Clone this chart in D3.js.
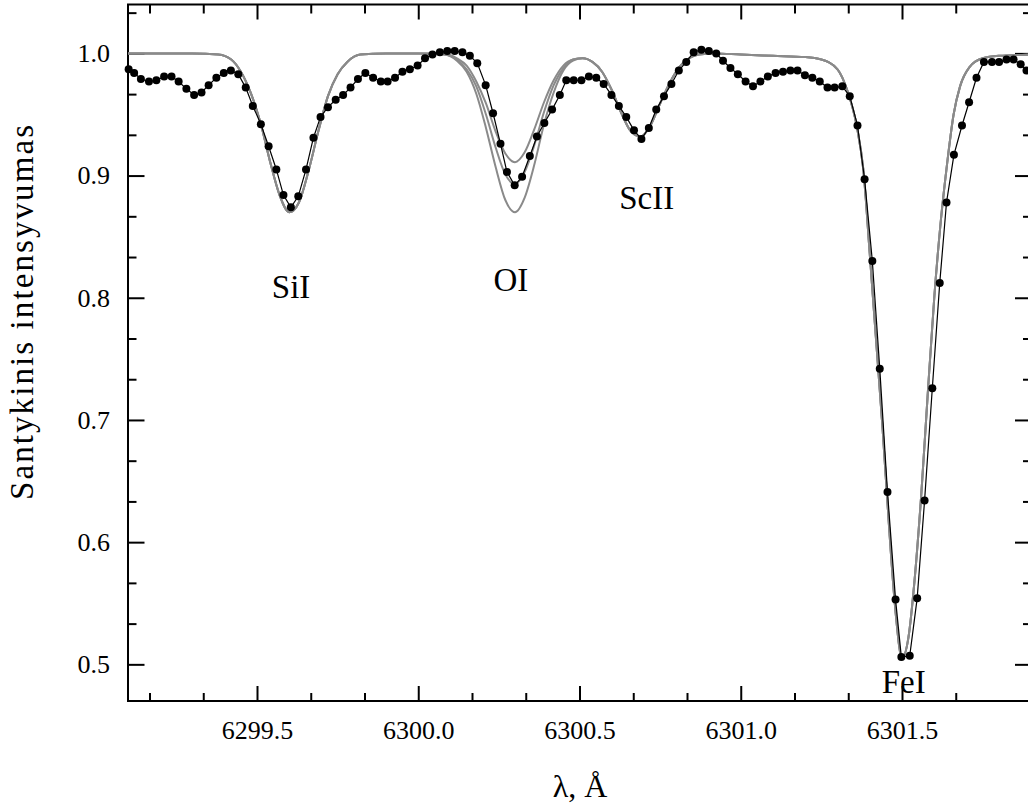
<!DOCTYPE html>
<html>
<head>
<meta charset="utf-8">
<script src="https://cdn.jsdelivr.net/npm/d3@7"></script>
<style>
  body { margin: 0; background: #fff; }
  svg { display: block; font-family: "Liberation Serif", "Times New Roman", serif; }
  .axis line { stroke: #000; stroke-width: 2; }
  .axis path { display: none; }
</style>
</head>
<body>
<svg id="chart" width="1028" height="805"></svg>
<script>
// observed spectrum (dots)
var obsWave = [
  6299.102, 6299.119, 6299.140, 6299.165, 6299.188, 6299.212, 6299.235, 6299.257, 6299.281, 6299.305,
  6299.328, 6299.350, 6299.374, 6299.397, 6299.419, 6299.442, 6299.465, 6299.487, 6299.512, 6299.536,
  6299.560, 6299.582, 6299.605, 6299.628, 6299.652, 6299.675, 6299.697, 6299.720, 6299.744, 6299.767,
  6299.790, 6299.813, 6299.836, 6299.860, 6299.884, 6299.905, 6299.928, 6299.951, 6299.974, 6299.998,
  6300.021, 6300.044, 6300.067, 6300.090, 6300.113, 6300.137, 6300.160, 6300.183, 6300.209, 6300.232,
  6300.255, 6300.275, 6300.299, 6300.322, 6300.346, 6300.368, 6300.391, 6300.415, 6300.439, 6300.459,
  6300.482, 6300.506, 6300.529, 6300.552, 6300.575, 6300.599, 6300.622, 6300.645, 6300.669, 6300.692,
  6300.715, 6300.738, 6300.762, 6300.785, 6300.808, 6300.831, 6300.854, 6300.878, 6300.901, 6300.924,
  6300.945, 6300.968, 6300.991, 6301.015, 6301.038, 6301.061, 6301.084, 6301.108, 6301.131, 6301.154,
  6301.176, 6301.199, 6301.222, 6301.245, 6301.269, 6301.291, 6301.315, 6301.338, 6301.362, 6301.384,
  6301.408, 6301.431, 6301.455, 6301.480, 6301.498, 6301.524, 6301.547, 6301.570, 6301.594, 6301.617,
  6301.638, 6301.661, 6301.686, 6301.708, 6301.731, 6301.754, 6301.779, 6301.801, 6301.824, 6301.846,
  6301.868, 6301.886
];
var obsFlux = [
  0.987, 0.984, 0.979, 0.977, 0.978, 0.981, 0.981, 0.977, 0.971, 0.966,
  0.968, 0.974, 0.980, 0.984, 0.986, 0.983, 0.972, 0.957, 0.942, 0.924,
  0.905, 0.884, 0.874, 0.883, 0.905, 0.931, 0.948, 0.956, 0.962, 0.966,
  0.972, 0.979, 0.984, 0.980, 0.977, 0.977, 0.980, 0.985, 0.987, 0.990,
  0.996, 0.999, 1.001, 1.002, 1.002, 1.001, 0.998, 0.992, 0.974, 0.951,
  0.926, 0.903, 0.892, 0.899, 0.916, 0.932, 0.943, 0.954, 0.966, 0.978,
  0.978, 0.978, 0.981, 0.980, 0.975, 0.966, 0.957, 0.948, 0.937, 0.930,
  0.939, 0.954, 0.965, 0.975, 0.986, 0.993, 1.001, 1.003, 1.002, 1.000,
  0.994, 0.988, 0.983, 0.977, 0.973, 0.977, 0.981, 0.984, 0.985, 0.986,
  0.986, 0.982, 0.980, 0.977, 0.972, 0.972, 0.973, 0.965, 0.941, 0.897,
  0.830, 0.742, 0.641, 0.553, 0.506, 0.507, 0.554, 0.634, 0.726, 0.812,
  0.878, 0.917, 0.941, 0.960, 0.980, 0.993, 0.993, 0.993, 0.995, 0.995,
  0.991, 0.986
];

// synthetic spectra, three oxygen abundances (they differ only at OI)
var modelWave = [
  6299.10, 6299.30, 6299.38, 6299.42, 6299.45, 6299.48, 6299.51, 6299.54, 6299.57, 6299.60,
  6299.63, 6299.66, 6299.69, 6299.72, 6299.75, 6299.78, 6299.82, 6299.90, 6300.00, 6300.08,
  6300.12, 6300.15, 6300.18, 6300.21, 6300.24, 6300.27, 6300.30, 6300.33, 6300.36, 6300.39,
  6300.42, 6300.45, 6300.48, 6300.51, 6300.54, 6300.57, 6300.60, 6300.63, 6300.66, 6300.69,
  6300.72, 6300.75, 6300.78, 6300.81, 6300.84, 6300.87, 6300.92, 6301.00, 6301.10, 6301.20,
  6301.25, 6301.30, 6301.33, 6301.36, 6301.38, 6301.40, 6301.42, 6301.44, 6301.46, 6301.48,
  6301.50, 6301.52, 6301.54, 6301.56, 6301.58, 6301.60, 6301.62, 6301.64, 6301.66, 6301.68,
  6301.71, 6301.75, 6301.80, 6301.90
];
var modelLow = [
  1.000, 1.000, 0.999, 0.995, 0.985, 0.968, 0.944, 0.912, 0.884, 0.870,
  0.878, 0.904, 0.936, 0.965, 0.983, 0.993, 0.999, 1.000, 1.000, 0.999,
  0.994, 0.985, 0.967, 0.939, 0.907, 0.880, 0.870, 0.882, 0.909, 0.942,
  0.968, 0.986, 0.994, 0.996, 0.993, 0.985, 0.970, 0.951, 0.936, 0.932,
  0.941, 0.959, 0.976, 0.989, 0.996, 0.999, 1.000, 0.999, 0.998, 0.997,
  0.995, 0.987, 0.970, 0.940, 0.905, 0.836, 0.764, 0.692, 0.612, 0.543,
  0.505, 0.522, 0.572, 0.640, 0.722, 0.800, 0.862, 0.910, 0.950, 0.973,
  0.989, 0.996, 0.998, 0.999
];
var modelMid = [
  1.000, 1.000, 0.999, 0.995, 0.985, 0.968, 0.944, 0.912, 0.884, 0.870,
  0.878, 0.904, 0.936, 0.965, 0.983, 0.993, 0.999, 1.000, 1.000, 0.999,
  0.995, 0.987, 0.973, 0.950, 0.923, 0.901, 0.893, 0.903, 0.925, 0.952,
  0.974, 0.988, 0.995, 0.996, 0.993, 0.985, 0.970, 0.951, 0.936, 0.932,
  0.941, 0.959, 0.976, 0.989, 0.996, 0.999, 1.000, 0.999, 0.998, 0.997,
  0.995, 0.987, 0.970, 0.940, 0.905, 0.836, 0.764, 0.692, 0.612, 0.543,
  0.505, 0.522, 0.572, 0.640, 0.722, 0.800, 0.862, 0.910, 0.950, 0.973,
  0.989, 0.996, 0.998, 0.999
];
var modelHigh = [
  1.000, 1.000, 0.999, 0.995, 0.985, 0.968, 0.944, 0.912, 0.884, 0.870,
  0.878, 0.904, 0.936, 0.965, 0.983, 0.993, 0.999, 1.000, 1.000, 1.000,
  0.996, 0.990, 0.977, 0.959, 0.936, 0.918, 0.911, 0.919, 0.938, 0.960,
  0.978, 0.990, 0.995, 0.996, 0.993, 0.985, 0.970, 0.951, 0.936, 0.932,
  0.941, 0.959, 0.976, 0.989, 0.996, 0.999, 1.000, 0.999, 0.998, 0.997,
  0.995, 0.987, 0.970, 0.940, 0.905, 0.836, 0.764, 0.692, 0.612, 0.543,
  0.505, 0.522, 0.572, 0.640, 0.722, 0.800, 0.862, 0.910, 0.950, 0.973,
  0.989, 0.996, 0.998, 0.999
];

var xMajor = [6299.5, 6300.0, 6300.5, 6301.0, 6301.5];
var yMajor = [0.5, 0.6, 0.7, 0.8, 0.9, 1.0];

// line identifications and where their labels sit (wavelength, intensity)
var lineNames = ["SiI", "OI", "ScII", "FeI"];
var lineLabelAt = [[6299.546, 0.800], [6300.233, 0.8055], [6300.623, 0.873], [6301.437, 0.4768]];

var SERIF = "'Liberation Serif', 'Times New Roman', serif";

var svg = d3.select("#chart");

var x = d3.scaleLinear().domain([6299.1, 6301.9]).range([128, 1031]);
var y = d3.scaleLinear().domain([0.47, 1.04]).range([701, 4.5]);

//minor ticks: three steps between x majors, three between y majors
var xMinor = d3.range(1, 17).map(function(k) { return 6299 + k / 6; })
  .filter(function(v) { return v > 6299.1 && v < 6301.9 && Math.abs(v * 2 - Math.round(v * 2)) > 1e-6; });
var yMinor = d3.range(14, 32).filter(function(k) { return k % 3 != 0; })
  .map(function(k) { return k / 30; })
  .filter(function(v) { return v > 0.47 && v < 1.04; });

var fmt = d3.format(".1f");

function addAxis(axis, tx, ty) {
  var g = svg.append("g").attr("class", "axis")
    .attr("transform", "translate(" + tx + "," + ty + ")")
    .call(axis)
    .attr("font-family", null)
    .attr("font-size", null);
  //d3 puts sans-serif on the group, tick labels here are Times-like
  g.selectAll("text")
    .style("font-family", SERIF)
    .style("font-size", "26px")
    .attr("fill", "#000");
}

addAxis(d3.axisBottom(x).tickValues(xMajor).tickFormat(fmt).tickSizeInner(-15).tickSizeOuter(0).tickPadding(20), 0, 701);
addAxis(d3.axisBottom(x).tickValues(xMinor).tickFormat("").tickSizeInner(-8).tickSizeOuter(0), 0, 701);
addAxis(d3.axisTop(x).tickValues(xMajor).tickFormat("").tickSizeInner(-15).tickSizeOuter(0), 0, 4.5);
addAxis(d3.axisTop(x).tickValues(xMinor).tickFormat("").tickSizeInner(-9).tickSizeOuter(0), 0, 4.5);
addAxis(d3.axisLeft(y).tickValues(yMajor).tickFormat(fmt).tickSizeInner(-16.5).tickSizeOuter(0).tickPadding(18), 128, 0);
addAxis(d3.axisLeft(y).tickValues(yMinor).tickFormat("").tickSizeInner(-8.5).tickSizeOuter(0), 128, 0);
addAxis(d3.axisRight(y).tickValues(yMajor).tickFormat("").tickSizeInner(-16).tickSizeOuter(0), 1031, 0);
addAxis(d3.axisRight(y).tickValues(yMinor).tickFormat("").tickSizeInner(-8).tickSizeOuter(0), 1031, 0);

svg.append("rect")
  .attr("x", x.range()[0]).attr("y", y.range()[1])
  .attr("width", x.range()[1] - x.range()[0])
  .attr("height", y.range()[0] - y.range()[1])
  .attr("fill", "none").attr("stroke", "#000").attr("stroke-width", 2);

// synthetic spectra, gray
var modelLine = d3.line()
  .x(function(d) { return x(d[0]); })
  .y(function(d) { return y(d[1]); })
  .curve(d3.curveMonotoneX);

[modelLow, modelMid, modelHigh].forEach(function(series) {
  svg.append("path")
    .datum(modelWave.map(function(w, i) { return [w, series[i]]; }))
    .attr("d", modelLine)
    .attr("fill", "none")
    .attr("stroke", "#8a8a8a")
    .attr("stroke-width", 2);
});

// observed spectrum, black line with dots
var obs = obsWave.map(function(w, i) { return [w, obsFlux[i]]; });

svg.append("path")
  .datum(obs)
  .attr("d", d3.line().x(function(d) { return x(d[0]); }).y(function(d) { return y(d[1]); }))
  .attr("fill", "none")
  .attr("stroke", "#000")
  .attr("stroke-width", 1.2);

svg.append("g").selectAll("circle")
  .data(obs)
  .enter().append("circle")
  .attr("cx", function(d) { return x(d[0]); })
  .attr("cy", function(d) { return y(d[1]); })
  .attr("r", 4)
  .attr("fill", "#000");

// line labels
svg.append("g").selectAll("text")
  .data(lineNames)
  .enter().append("text")
  .attr("x", function(d, i) { return x(lineLabelAt[i][0]); })
  .attr("y", function(d, i) { return y(lineLabelAt[i][1]); })
  .style("font-family", SERIF)
  .attr("font-size", 33)
  .text(function(d) { return d; });

// axis titles
svg.append("text")
  .attr("x", 580).attr("y", 796.7)
  .attr("text-anchor", "middle")
  .style("font-family", SERIF)
  .attr("font-size", 32)
  .text("λ, Å");

svg.append("text")
  .attr("transform", "translate(32.5,312.5) rotate(-90)")
  .attr("text-anchor", "middle")
  .style("font-family", SERIF)
  .attr("font-size", 33)
  .attr("textLength", 375)
  .attr("lengthAdjust", "spacing")
  .text("Santykinis intensyvumas");
</script>
</body>
</html>
